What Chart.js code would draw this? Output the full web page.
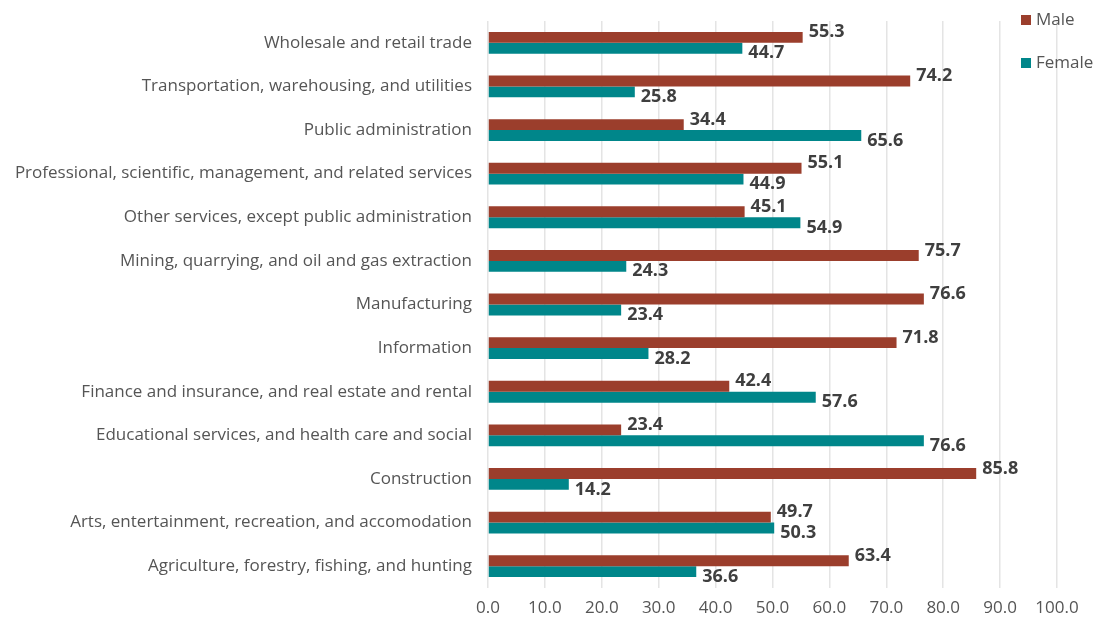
<!DOCTYPE html>
<html>
<head>
<meta charset="utf-8">
<script src="https://cdn.jsdelivr.net/npm/chart.js@4/dist/chart.umd.min.js"></script>
<style>
  html, body { margin: 0; padding: 0; background: #fff; }
  #wrap { width: 1106px; height: 633px; }
</style>
</head>
<body>
<div id="wrap"><canvas id="grafico"></canvas></div>
<script>
// dados do gráfico
const setores = [
  'Wholesale and retail trade',
  'Transportation, warehousing, and utilities',
  'Public administration',
  'Professional, scientific, management, and related services',
  'Other services, except public administration',
  'Mining, quarrying, and oil and gas extraction',
  'Manufacturing',
  'Information',
  'Finance and insurance, and real estate and rental',
  'Educational services, and health care and social',
  'Construction',
  'Arts, entertainment, recreation, and accomodation',
  'Agriculture, forestry, fishing, and hunting'
];
const masculino = [55.3, 74.2, 34.4, 55.1, 45.1, 75.7, 76.6, 71.8, 42.4, 23.4, 85.8, 49.7, 63.4];
const feminino = [44.7, 25.8, 65.6, 44.9, 54.9, 24.3, 23.4, 28.2, 57.6, 76.6, 14.2, 50.3, 36.6];
const seriesNomes = ['Male', 'Female'];

const cores = {
  male: '#9B3E2C',
  female: '#00868A',
  texto: '#555555',
  rotulo: '#3F3F3F',
  grade: '#E4E4E4'
};
const fonte = '"Open Sans", Lato, sans-serif';

// Rótulos de valor ao lado das barras
const rotulosPlugin = {
  id: 'rotulos',
  afterDatasetsDraw(chart) {
    const ctx = chart.ctx;
    ctx.save();
    ctx.font = 'bold 18px ' + fonte;
    ctx.fillStyle = cores.rotulo;
    ctx.textAlign = 'left';
    ctx.textBaseline = 'middle';
    chart.data.datasets.forEach((ds, di) => {
      const meta = chart.getDatasetMeta(di);
      const desloc = di === 0 ? -5 : 5;
      meta.data.forEach((bar, i) => {
        ctx.fillText(ds.data[i].toFixed(1), bar.x + 6, bar.y + desloc);
      });
    });
    ctx.restore();
  }
};

// Legenda no canto superior direito
const legendaPlugin = {
  id: 'legenda',
  afterDraw(chart) {
    const ctx = chart.ctx;
    ctx.save();
    ctx.font = '500 17px ' + fonte;
    ctx.textBaseline = 'middle';
    ctx.textAlign = 'left';
    chart.data.datasets.forEach((ds, di) => {
      const y = 20 + di * 43;
      ctx.fillStyle = ds.backgroundColor;
      ctx.fillRect(1021, y - 5, 10, 10);
      ctx.fillStyle = cores.texto;
      ctx.fillText(ds.label, 1036, y);
    });
    ctx.restore();
  }
};

new Chart(document.getElementById('grafico'), {
  type: 'bar',
  data: {
    labels: setores,
    datasets: [
      { label: seriesNomes[0], data: masculino, backgroundColor: cores.male },
      { label: seriesNomes[1], data: feminino, backgroundColor: cores.female }
    ]
  },
  options: {
    indexAxis: 'y',
    responsive: true,
    maintainAspectRatio: false,
    animation: false,
    layout: { padding: { top: 21, right: 49, left: 0, bottom: 0 } },
    datasets: {
      bar: { categoryPercentage: 0.5, barPercentage: 1 }
    },
    scales: {
      x: {
        min: 0,
        max: 100,
        ticks: {
          stepSize: 10,
          color: cores.texto,
          font: { family: fonte, size: 17 },
          padding: 10,
          callback: v => Number(v).toFixed(1)
        },
        grid: { color: cores.grade, lineWidth: 1.5, drawTicks: false },
        border: { display: false },
        afterFit: s => { s.height = 45; }
      },
      y: {
        ticks: {
          color: cores.texto,
          font: { family: fonte, size: 17, weight: 500 },
          padding: 16
        },
        grid: { display: false, drawTicks: false },
        border: { display: false },
        afterFit: s => {
          s.width = 488;
          s.paddingTop = 0;
          s.paddingBottom = 0;
        }
      }
    },
    plugins: {
      legend: { display: false },
      tooltip: { enabled: false }
    }
  },
  plugins: [rotulosPlugin, legendaPlugin]
});
</script>
</body>
</html>
